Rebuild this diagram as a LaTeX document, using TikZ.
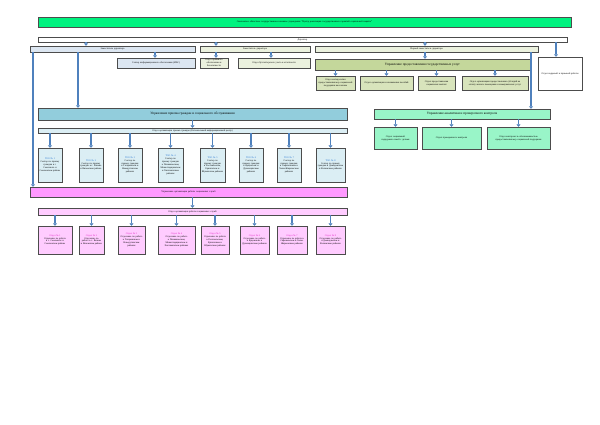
\documentclass[tikz,border=0pt]{standalone}
\usepackage{fontspec}
\setmainfont{Liberation Serif}
\usetikzlibrary{arrows.meta}
\definecolor{ttl}{HTML}{00F27F}
\definecolor{lb}{HTML}{DCE6F1}
\definecolor{ol}{HTML}{EBF1DE}
\definecolor{olg}{HTML}{C4D79B}
\definecolor{ols}{HTML}{D8E4BC}
\definecolor{tq}{HTML}{92CDDC}
\definecolor{tql}{HTML}{DBEEF4}
\definecolor{aq}{HTML}{99F5C8}
\definecolor{pk}{HTML}{FF99FF}
\definecolor{pkl}{HTML}{FFCCFF}
\definecolor{arr}{HTML}{4F81BD}
\definecolor{mg}{HTML}{E020C0}
\definecolor{bl}{HTML}{1F6FD0}
\begin{document}
\begin{tikzpicture}[x=1pt,y=-1pt,
 bx/.style={draw=black!70,line width=0.4pt,inner sep=0.5pt,align=center,font=\fontsize{2.4}{2.9}\selectfont},
 ar/.style={draw=arr,line width=1.4pt,-{Triangle[length=2.5pt,width=4pt]}},
 ln/.style={draw=arr,line width=1.4pt}]
\useasboundingbox (0,0) rectangle (600,424);
\fill[white] (0,0) rectangle (600,424);
\newcommand{\bxx}[7]{\node[bx,fill=#6,minimum width={#3-#2},minimum height={#5-#4},text width={#3-#2-2}] (#1) at ({(#2+#3)/2},{(#4+#5)/2}) {#7};}
\bxx{t}{38}{571}{17}{27}{ttl}{Смоленское областное государственное казенное учреждение "Центр реализации государственных гарантий социальной защиты"}
\bxx{d}{38}{567}{37}{42}{white}{Директор}
\bxx{z1}{30}{195}{46}{52}{lb}{Заместитель директора}
\bxx{z2}{200}{310}{46}{52}{ol}{Заместитель директора}
\bxx{z3}{315}{538}{46}{52}{ol}{Первый заместитель директора}
\bxx{ok}{538}{582}{57}{90}{white}{Отдел кадровой и правовой работы}
\bxx{s1}{117}{195}{58}{68}{lb}{Сектор информационного обеспечения (ИАС)}
\bxx{s2}{200}{228}{58}{68}{ol}{Отдел правового обеспечения и безопасности}
\bxx{s3}{238}{310}{58}{68}{ol}{Отдел бухгалтерского учета и отчетности}
\bxx{ug}{315}{530}{59}{70}{olg}{\fontsize{3.4}{4}\selectfont Управление предоставления государственных услуг}
\bxx{g1}{316}{355}{76}{90}{ols}{Отдел методологии предоставления мер социальной поддержки населению}
\bxx{g2}{360}{413}{76}{90}{ols}{Отдел организации и назначения пособий}
\bxx{g3}{418}{455}{76}{90}{ols}{Отдел предоставления социальных выплат}
\bxx{g4}{462}{528}{76}{90}{ols}{Отдел организации предоставления субсидий на оплату жилого помещения и коммунальных услуг}
\bxx{up}{38}{347}{108}{120}{tq}{\fontsize{3.4}{4}\selectfont Управление приема граждан и социального обслуживания}
\bxx{ups}{38}{347}{128}{133}{tql}{Отдел организации приема граждан (Региональный информационный центр)}
\bxx{uk}{374}{550}{109}{119}{aq}{\fontsize{3.4}{4}\selectfont Управление аналитики и проверочного контроля}
\bxx{k1}{374}{417}{127}{149}{aq}{Отдел социальной поддержки семей с детьми}
\bxx{k2}{422}{481}{127}{149}{aq}{Отдел проверочного контроля}
\bxx{k3}{487}{550}{127}{149}{aq}{Отдел контроля за обоснованностью предоставления мер социальной поддержки}
\bxx{pu}{30}{347}{187}{197}{pk}{Управление организации работы социальных служб}
\bxx{pus}{38}{347}{208}{215}{pkl}{Отдел организации работы социальных служб}
\foreach \n/\a/\b/\tx in {1/38/62/{в г. Смоленске и Смоленском районе},2/79/103/{в г. Вязьме и Вяземском районе},3/118/142/{в Гагаринском и Новодугинском районах},4/158/183/{в Починковском, Монастырщинском и Хиславичском районах},5/200/225/{в Рославльском, Ершичском и Шумячском районах},6/239/263/{в Ярцевском и Духовщинском районах},7/277/301/{в Сафоновском и Холм-Жирковском районах},8/316/345/{в Демидовском и Велижском районах}}{
 \bxx{a\n}{\a}{\b}{148}{182}{tql}{{\color{bl}ТОО № \n}\\Сектор по приему граждан \tx}
}
\foreach \n/\a/\b/\tx in {1/38/72/{в г. Смоленске и Смоленском районе},2/79/104/{в г. Вязьме и Вяземском районе},3/118/145/{в Гагаринском и Новодугинском районах},4/158/195/{в Починковском, Монастырщинском и Хиславичском районах},5/201/229/{в Рославльском, Ершичском и Шумячском районах},6/240/269/{в Ярцевском и Духовщинском районах},7/277/307/{в Сафоновском и Холм-Жирковском районах},8/316/345/{в Демидовском и Велижском районах}}{
 \bxx{b\n}{\a}{\b}{226}{254}{pkl}{{\color{mg}Отдел № \n}\\Отделение по работе \tx}
}
\coordinate (d1) at (86,42); \coordinate (d2) at (216,42); \coordinate (d3) at (425,42); \coordinate (d4) at (556,42);
\draw[ar] (d1) -- (d1|-z1.north);
\draw[ar] (d2) -- (d2|-z2.north);
\draw[ar] (d3) -- (d3|-z3.north);
\draw[ar] (d4) -- (ok.north-|d4);
\coordinate (e1) at (155,52); \coordinate (e2) at (216,52); \coordinate (e3) at (271,52); \coordinate (e4) at (425,52);
\draw[ar] (e1) -- (e1|-s1.north);
\draw[ar] (e2) -- (e2|-s2.north);
\draw[ar] (e3) -- (e3|-s3.north);
\draw[ar] (e4) -- (e4|-ug.north);
\foreach \g in {g1,g2,g3,g4}{\draw[ar] (ug.south-|\g) -- (\g.north);}
\coordinate (l1) at (33,52); \coordinate (l2) at (78,52); \coordinate (l3) at (531,52);
\draw[ar] (l1) -- (l1|-pu.north);
\draw[ar] (l2) -- (l2|-up.north);
\draw[ar] (l3) -- (l3|-uk.north);
\draw[ar] (up.south) -- (ups.north);
\foreach \k in {k1,k2,k3}{\draw[ar] (uk.south-|\k) -- (\k.north);}
\foreach \n in {1,...,8}{\draw[ar] (ups.south-|a\n) -- (a\n.north);}
\draw[ar] (pu.south-|ups) -- (pus.north-|ups);
\foreach \n in {1,...,8}{\draw[ar] (pus.south-|b\n) -- (b\n.north);}
\end{tikzpicture}
\end{document}
